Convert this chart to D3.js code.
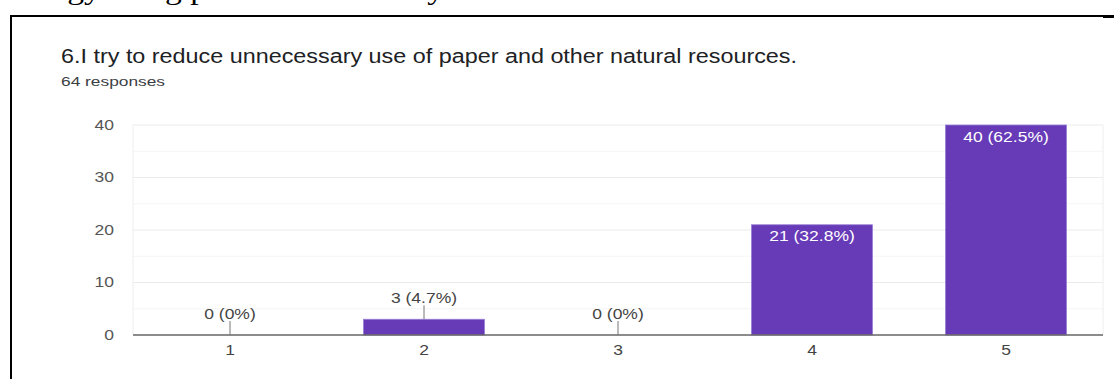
<!DOCTYPE html>
<html>
<head>
<meta charset="utf-8">
<script src="https://cdn.jsdelivr.net/npm/d3@7"></script>
<style>
  html, body { margin: 0; padding: 0; background: #fff; }
  svg { display: block; }
  .sans { font-family: "Liberation Sans", Arial, Helvetica, sans-serif; }
  .serif { font-family: "Liberation Serif", "Times New Roman", serif; }
</style>
</head>
<body>
<svg id="chart" width="1114" height="379"></svg>
<script>
// Survey answers on a 1–5 scale
const categories = ["1", "2", "3", "4", "5"];
const counts = [0, 3, 0, 21, 40];
const totalResponses = 64;
const yTicks = [0, 10, 20, 30, 40];
const minorTicks = [5, 15, 25, 35];
const titleText = "6.I try to reduce unnecessary use of paper and other natural resources.";
const subtitleText = totalResponses + " responses";

const W = 1114, H = 379;
const plot = { left: 133, right: 1103, top: 125, bottom: 335 };
const glyphStretch = 1.25;   // glyphs are drawn slightly wide
const purple = "#673ab7";

const svg = d3.select("#chart");
svg.append("rect").attr("width", W).attr("height", H).attr("fill", "#fff");

// Tail of the previous document line, clipped by the top edge
svg.append("text")
  .attr("class", "serif")
  .attr("transform", "translate(10,-1) scale(1.2,1)")
  .attr("font-size", 28)
  .attr("fill", "#000")
  .text("energy using products and study");

// Frame around the card
svg.append("line").attr("x1", 11).attr("x2", 11).attr("y1", 15).attr("y2", H)
  .attr("stroke", "#000").attr("stroke-width", 2);
svg.append("line").attr("x1", 10).attr("x2", 1104).attr("y1", 16).attr("y2", 16)
  .attr("stroke", "#000").attr("stroke-width", 2);
svg.append("line").attr("x1", 1103).attr("x2", W).attr("y1", 16.5).attr("y2", 16.5)
  .attr("stroke", "#000").attr("stroke-width", 3);

// Title and response count
svg.append("text")
  .attr("class", "sans")
  .attr("x", 61).attr("y", 63)
  .attr("font-size", 19.5)
  .attr("fill", "#202124")
  .attr("textLength", 736).attr("lengthAdjust", "spacingAndGlyphs")
  .text(titleText);
svg.append("text")
  .attr("class", "sans")
  .attr("x", 61).attr("y", 86)
  .attr("font-size", 12.5)
  .attr("font-weight", 500)
  .attr("fill", "#3c4043")
  .attr("textLength", 104).attr("lengthAdjust", "spacingAndGlyphs")
  .text(subtitleText);

// Scales
const x = d3.scaleBand()
  .domain(categories)
  .range([plot.left, plot.right])
  .paddingInner(0.376)
  .paddingOuter(0.188);
const y = d3.scaleLinear()
  .domain([0, 40])
  .range([plot.bottom, plot.top]);

// Gridlines
const grid = svg.append("g");
grid.selectAll("line.minor").data(minorTicks).join("line")
  .attr("class", "minor")
  .attr("x1", plot.left).attr("x2", plot.right)
  .attr("y1", d => y(d)).attr("y2", d => y(d))
  .attr("stroke", "#f5f5f5").attr("stroke-width", 1.2);
grid.selectAll("line.major").data(yTicks.filter(d => d > 0)).join("line")
  .attr("class", "major")
  .attr("x1", plot.left).attr("x2", plot.right)
  .attr("y1", d => y(d)).attr("y2", d => y(d))
  .attr("stroke", "#ebebeb").attr("stroke-width", 1.2);
grid.selectAll("line.edge").data([plot.left, plot.right]).join("line")
  .attr("class", "edge")
  .attr("x1", d => d).attr("x2", d => d)
  .attr("y1", plot.top).attr("y2", plot.bottom)
  .attr("stroke", "#eeeeee").attr("stroke-width", 1);

// Y axis labels
const yAxis = svg.append("g")
  .attr("transform", `translate(${plot.left},0)`)
  .call(d3.axisLeft(y).tickValues(yTicks).tickSize(0).tickPadding(19));
yAxis.select(".domain").remove();
yAxis.selectAll("text")
  .attr("x", null)
  .attr("class", "sans")
  .attr("transform", `translate(-19,0) scale(${glyphStretch},1)`)
  .attr("font-size", 14)
  .attr("fill", "#555");

// Bars
const data = categories.map((c, i) => ({ cat: c, value: counts[i] }));
svg.append("g").selectAll("rect").data(data.filter(d => d.value > 0)).join("rect")
  .attr("x", d => x(d.cat))
  .attr("y", d => y(d.value))
  .attr("width", x.bandwidth())
  .attr("height", d => y(0) - y(d.value))
  .attr("fill", purple)
  .attr("stroke", "#9a80d6")
  .attr("stroke-width", 0.8);

// Baseline
svg.append("line")
  .attr("x1", plot.left).attr("x2", plot.right)
  .attr("y1", y(0)).attr("y2", y(0))
  .attr("stroke", "#666").attr("stroke-width", 1.6);

// X axis labels
const xAxis = svg.append("g")
  .attr("transform", `translate(0,${plot.bottom})`)
  .call(d3.axisBottom(x).tickSize(0).tickPadding(10));
xAxis.select(".domain").remove();
xAxis.selectAll("text")
  .attr("y", null).attr("dy", null)
  .attr("class", "sans")
  .attr("transform", `translate(0,20) scale(${glyphStretch},1)`)
  .attr("font-size", 14)
  .attr("fill", "#444");

// Value labels: inside tall bars, above short ones with a leader line
const pct = d3.format(".1~f");
const labelText = d => `${d.value} (${pct(d.value / totalResponses * 100)}%)`;
const inside = d => (y(0) - y(d.value)) > 40;
const labels = svg.append("g");
data.forEach(d => {
  const cx = x(d.cat) + x.bandwidth() / 2;
  const top = y(d.value);
  if (inside(d)) {
    labels.append("text")
      .attr("class", "sans")
      .attr("transform", `translate(${cx},${top + 16.5}) scale(${glyphStretch},1)`)
      .attr("text-anchor", "middle")
      .attr("font-size", 14)
      .attr("fill", "#fff")
      .text(labelText(d));
  } else {
    labels.append("line")
      .attr("x1", cx).attr("x2", cx)
      .attr("y1", top).attr("y2", top - 14)
      .attr("stroke", "#777").attr("stroke-width", 1);
    labels.append("text")
      .attr("class", "sans")
      .attr("transform", `translate(${cx},${top - 16}) scale(${glyphStretch},1)`)
      .attr("text-anchor", "middle")
      .attr("font-size", 14)
      .attr("fill", "#444")
      .text(labelText(d));
  }
});
</script>
</body>
</html>
